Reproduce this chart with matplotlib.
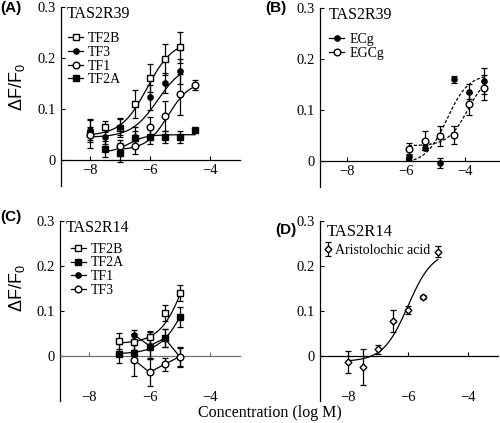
import numpy as np
import matplotlib
matplotlib.use('Agg')
import matplotlib.pyplot as plt

plt.rcParams.update({
    'font.family': 'serif',
    'font.serif': ['Liberation Serif', 'DejaVu Serif'],
    'mathtext.fontset': 'custom',
    'mathtext.rm': 'Liberation Sans',
    'axes.linewidth': 0.9,
})

# ── data ───────────────────────────────────────────────────────────────────
# (A) TAS2R39, theaflavins
a_tf2b_x = [-8, -7.5, -7, -6.5, -6, -5.5, -5]
a_tf2b_y = [0.052, 0.066, 0.064, 0.110, 0.161, 0.198, 0.221]
a_tf2b_e = [0.029, 0.010, 0.018, 0.028, 0.028, 0.030, 0.030]
a_tf3_x = [-8, -7.5, -7, -6.5, -6, -5.5, -5]
a_tf3_y = [0.059, 0.046, 0.065, 0.045, 0.123, 0.151, 0.174]
a_tf3_e = [0.020, 0.015, 0.015, 0.020, 0.025, 0.020, 0.025]
a_tf1_x = [-8, -7, -6.5, -6, -5.5, -5, -4.5]
a_tf1_y = [0.050, 0.027, 0.028, 0.065, 0.087, 0.129, 0.148]
a_tf1_e = [0.015, 0.012, 0.015, 0.020, 0.030, 0.040, 0.010]
a_tf2a_x = [-7.5, -7, -6.5, -6, -5.5, -5, -4.5]
a_tf2a_y = [0.022, 0.015, 0.043, 0.046, 0.046, 0.046, 0.059]
a_tf2a_e = [0.015, 0.018, 0.015, 0.015, 0.012, 0.012, 0.003]

# (B) TAS2R39, catechins
b_x = [-5.9, -5.35, -4.85, -4.35, -3.85, -3.35]
b_ecg_y = [0.008, 0.026, -0.004, 0.160, 0.136, 0.157]
b_ecg_e = [0.005, 0.005, 0.010, 0.007, 0.015, 0.025]
b_egcg_y = [0.023, 0.040, 0.049, 0.051, 0.112, 0.144]
b_egcg_e = [0.012, 0.018, 0.020, 0.018, 0.022, 0.025]

# (C) TAS2R14, theaflavins
c_x = [-7, -6.5, -6, -5.5, -5]
c_tf2b_y = [0.033, 0.031, 0.041, 0.095, 0.139]
c_tf2b_e = [0.017, 0.018, 0.015, 0.018, 0.018]
c_tf2a_y = [0.005, 0.007, 0.019, 0.039, 0.086]
c_tf2a_e = [0.022, 0.020, 0.025, 0.020, 0.022]
c_tf1_x = [-6.5, -6, -5.5, -5]
c_tf1_y = [0.046, 0.022, 0.039, -0.002]
c_tf1_e = [0.012, 0.030, 0.020, 0.022]
c_tf3_x = [-6.5, -6, -5.5, -5]
c_tf3_y = [-0.010, -0.037, -0.019, -0.002]
c_tf3_e = [0.035, 0.030, 0.015, 0.020]

# (D) TAS2R14, aristolochic acid
d_x = [-8, -7.5, -7, -6.5, -6, -5.5, -5]
d_y = [-0.014, -0.025, 0.015, 0.077, 0.102, 0.131, 0.232]
d_e = [0.025, 0.040, 0.010, 0.025, 0.010, 0.004, 0.012]

# fitted dose-response curves: (bottom, top, logEC50, hill, x_from, x_to)
fit_a = {'TF2B': (0.048, 0.235, -6.10, 1.0, -8, -5),
         'TF3':  (0.045, 0.190, -5.75, 1.0, -8, -5),
         'TF1':  (0.020, 0.155, -5.40, 1.2, -7, -4.5),
         'TF2A': (0.015, 0.050, -6.70, 1.5, -7.5, -4.5)}
fit_b = {'ECg':  (-0.005, 0.170, -4.60, 1.2, -5.9, -3.35),
         'EGCg': (0.030, 0.170, -3.90, 1.3, -5.9, -3.35)}
fit_c = {'TF2B': (0.027, 0.350, -4.70, 1.0, -7, -5),
         'TF2A': (0.004, 0.250, -4.70, 1.0, -7, -5)}
fit_d = (-0.013, 0.235, -6.00, 1.05, -8, -5)


def hill(p, n=200):
    bot, top, ec50, h, x0, x1 = p
    x = np.linspace(x0, x1, n)
    return x, bot + (top - bot) / (1 + 10 ** ((ec50 - x) * h))


TICK_FS = 10.5
msty = {
    'osq': dict(marker='s', mfc='white', mec='black', ms=4.5),
    'fci': dict(marker='o', mfc='black', mec='black', ms=3.8),
    'oci': dict(marker='o', mfc='white', mec='black', ms=4.8),
    'fsq': dict(marker='s', mfc='black', mec='black', ms=4.2),
    'odi': dict(marker='D', mfc='white', mec='black', ms=3.5),
}


def pts(ax, x, y, e, sty, label=None, ls='none'):
    return ax.errorbar(x, y, yerr=e, ls=ls, color='black', lw=0.9,
                       elinewidth=0.9, capsize=2.2, capthick=0.9,
                       label=label, zorder=3, **msty[sty])


def style_axes(ax, xlim, ylim, labels_at_zero=True, zero_color='black'):
    ax.set_xlim(*xlim); ax.set_ylim(*ylim)
    for s in ['top', 'right']:
        ax.spines[s].set_visible(False)
    ax.spines['bottom'].set_position(('data', 0))
    ax.spines['bottom'].set_color(zero_color)
    ax.set_xticks([-8, -6, -4])
    ax.set_yticks([0, 0.1, 0.2, 0.3])
    ax.set_yticklabels(['0', '0.1', '0.2', '0.3'])
    ax.tick_params(axis='y', direction='in', length=3, width=0.8,
                   labelsize=TICK_FS, pad=4)
    ax.tick_params(axis='x', direction='in', length=3, width=0.8,
                   color=zero_color, labelsize=TICK_FS, pad=3)
    if not labels_at_zero:
        ax.tick_params(axis='x', labelbottom=False)
        sec = ax.secondary_xaxis('bottom')
        sec.set_xticks([-8, -6, -4])
        sec.spines['bottom'].set_visible(False)
        sec.tick_params(length=0, labelsize=TICK_FS, pad=-7)
    ax.patch.set_alpha(0)


fig = plt.figure(figsize=(5.0, 4.23), dpi=100)
axA = fig.add_axes([0.122, 0.561, 0.358, 0.422])
axB = fig.add_axes([0.640, 0.559, 0.360, 0.422])
axC = fig.add_axes([0.120, 0.053, 0.360, 0.424])
axD = fig.add_axes([0.640, 0.053, 0.356, 0.424])

# ── (A) ─────────────────────────────────────────────────────────────────────
for k in ['TF2B', 'TF3', 'TF1', 'TF2A']:
    axA.plot(*hill(fit_a[k]), color='black', lw=0.9, zorder=2)
pts(axA, a_tf2b_x, a_tf2b_y, a_tf2b_e, 'osq')
pts(axA, a_tf3_x, a_tf3_y, a_tf3_e, 'fci')
pts(axA, a_tf1_x, a_tf1_y, a_tf1_e, 'oci')
pts(axA, a_tf2a_x, a_tf2a_y, a_tf2a_e, 'fsq')
leg_h = [axA.plot([], [], color='black', lw=0.9, **msty[s])[0]
         for s in ['osq', 'fci', 'oci', 'fsq']]
axA.legend(leg_h, ['TF2B', 'TF3', 'TF1', 'TF2A'], loc='upper left',
           bbox_to_anchor=(0.04, 0.86), frameon=False, fontsize=10,
           handlelength=1.1, handletextpad=0.35, labelspacing=0.05,
           borderpad=0, borderaxespad=0)
axA.text(0.03, 0.96, 'TAS2R39', transform=axA.transAxes, fontsize=11.5,
         va='center', ha='left')
style_axes(axA, (-8.97, -3.0), (-0.05, 0.3))

# ── (B) ─────────────────────────────────────────────────────────────────────
for k in ['ECg', 'EGCg']:
    axB.plot(*hill(fit_b[k]), color='black', lw=0.9, ls=(0, (2.5, 1.5)),
             zorder=2)
pts(axB, b_x, b_ecg_y, b_ecg_e, 'fci')
pts(axB, b_x, b_egcg_y, b_egcg_e, 'oci')
leg_h = [axB.plot([], [], color='black', lw=0.9, **msty[s])[0]
         for s in ['fci', 'oci']]
axB.legend(leg_h, ['ECg', 'EGCg'], loc='upper left',
           bbox_to_anchor=(0.05, 0.86), frameon=False, fontsize=10,
           handlelength=1.1, handletextpad=0.35, labelspacing=0.05,
           borderpad=0, borderaxespad=0)
axB.text(0.05, 0.96, 'TAS2R39', transform=axB.transAxes, fontsize=11.5,
         va='center', ha='left')
style_axes(axB, (-8.92, -2.8), (-0.05, 0.3))

# ── (C) ─────────────────────────────────────────────────────────────────────
for k in ['TF2B', 'TF2A']:
    axC.plot(*hill(fit_c[k]), color='black', lw=0.9, zorder=2)
pts(axC, c_x, c_tf2b_y, c_tf2b_e, 'osq')
pts(axC, c_x, c_tf2a_y, c_tf2a_e, 'fsq')
pts(axC, c_tf1_x, c_tf1_y, c_tf1_e, 'fci', ls='-')
pts(axC, c_tf3_x, c_tf3_y, c_tf3_e, 'oci', ls='-')
leg_h = [axC.plot([], [], color='black', lw=0.9, **msty[s])[0]
         for s in ['osq', 'fsq', 'fci', 'oci']]
axC.legend(leg_h, ['TF2B', 'TF2A', 'TF1', 'TF3'], loc='upper left',
           bbox_to_anchor=(0.06, 0.88), frameon=False, fontsize=10,
           handlelength=1.1, handletextpad=0.35, labelspacing=0.05,
           borderpad=0, borderaxespad=0)
axC.text(0.03, 0.96, 'TAS2R14', transform=axC.transAxes, fontsize=11.5,
         va='center', ha='left')
style_axes(axC, (-8.97, -3.0), (-0.1, 0.3), labels_at_zero=False,
           zero_color='#707070')

# ── (D) ─────────────────────────────────────────────────────────────────────
axD.plot(*hill(fit_d), color='black', lw=0.9, zorder=2)
hd = pts(axD, d_x, d_y, d_e, 'odi', label='Aristolochic acid')
axD.legend(handles=[hd], loc='upper left', bbox_to_anchor=(0.02, 0.875),
           frameon=False, fontsize=10, handlelength=0.7,
           handletextpad=0.1, borderpad=0, borderaxespad=0)
axD.text(0.04, 0.94, 'TAS2R14', transform=axD.transAxes, fontsize=12,
         va='center', ha='left')
style_axes(axD, (-8.93, -3.0), (-0.1, 0.3), labels_at_zero=False)

# ── labels ──────────────────────────────────────────────────────────────────
for lab, x, y in [('(A)', 0.0, 0.981), ('(B)', 0.53, 0.981),
                  ('(C)', 0.0, 0.487), ('(D)', 0.55, 0.457)]:
    fig.text(x, y, lab, fontsize=11, fontweight='bold',
             family='Liberation Sans', ha='left', va='center')
for y in [0.795, 0.32]:
    fig.text(0.034, y, r'ΔF/F$_\mathregular{0}$', rotation=90, fontsize=13,
             family='Liberation Sans', ha='center', va='center')
fig.text(0.54, 0.024, 'Concentration (log M)', fontsize=11.5,
         ha='center', va='center')

plt.savefig('out.png', dpi=100)
